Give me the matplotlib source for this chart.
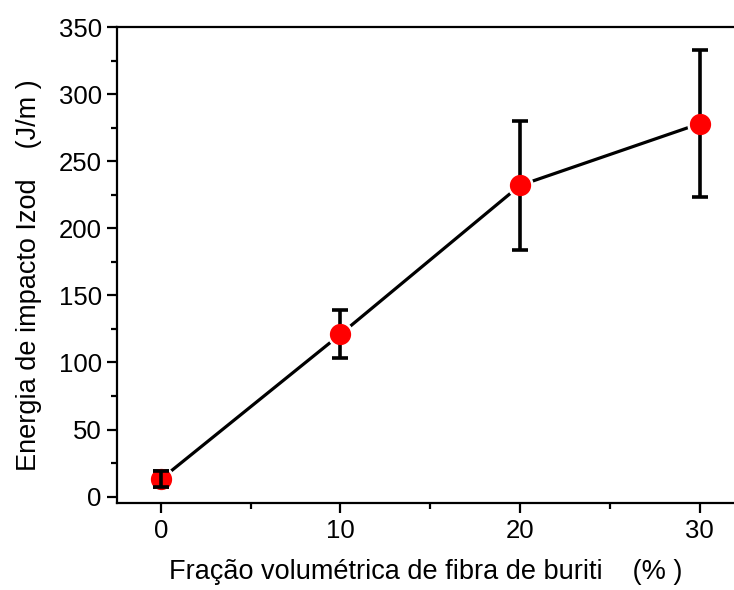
import matplotlib.pyplot as plt
from matplotlib.ticker import MultipleLocator

plt.rcParams['font.family'] = ['Liberation Sans', 'DejaVu Sans']

# fiber volume fraction (%) and Izod impact energy (J/m)
fracao = [0, 10, 20, 30]
energia = [13, 121, 232, 278]
erro = [6, 18, 48, 55]

fig = plt.figure(figsize=(7.34, 5.90), dpi=100)
ax = fig.add_axes([0.1594, 0.147, 0.8406, 0.807])

# line first, then a white ring so the line stops short of each marker
ax.plot(fracao, energia, color='black', lw=2.3, zorder=1)
ax.plot(fracao, energia, 'o', ms=18, mfc='white', mec='white', zorder=2)
ax.errorbar(fracao, energia, yerr=erro, fmt='none', ecolor='black',
            elinewidth=2.6, capsize=6, capthick=2.6, zorder=3)
ax.plot(fracao, energia, 'o', ms=14.3, mfc='red', mec='red', zorder=4)
# the first bar is shorter than the marker, it sits on top of it
ax.errorbar(fracao[:1], energia[:1], yerr=erro[:1], fmt='none', ecolor='black',
            elinewidth=2.6, capsize=6, capthick=2.6, zorder=5)

ax.set_xlim(-2.45, 31.92)
ax.set_ylim(-5, 350)
ax.xaxis.set_major_locator(MultipleLocator(10))
ax.xaxis.set_minor_locator(MultipleLocator(5))
ax.yaxis.set_major_locator(MultipleLocator(50))
ax.yaxis.set_minor_locator(MultipleLocator(25))

ax.spines['right'].set_visible(False)
for s in ['left', 'bottom', 'top']:
    ax.spines[s].set_linewidth(1.6)

ax.tick_params(which='major', direction='out', length=7, width=1.6,
               labelsize=18.5, pad=4)
ax.tick_params(which='minor', direction='out', length=4, width=1.6)

ax.set_xlabel('Fração volumétrica de fibra de buriti    (% )', fontsize=19.5)
ax.set_ylabel('Energia de impacto Izod    (J/m )', fontsize=19.5)
ax.xaxis.set_label_coords(0.5, -0.118)
ax.yaxis.set_label_coords(-0.122, 0.48)

fig.savefig('out.png', dpi=100)
